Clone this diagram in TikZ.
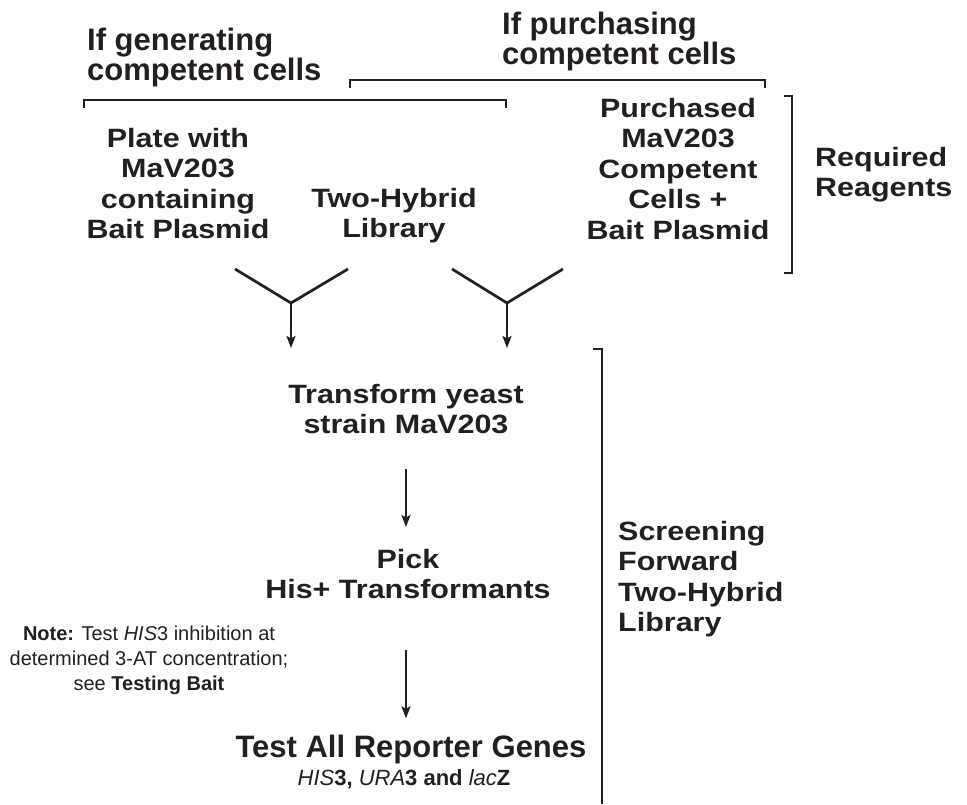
\documentclass[tikz,border=0pt]{standalone}
\usepackage{fontspec}
\setmainfont{Liberation Sans}
\newfontfamily\wideface{Liberation Sans}[FakeStretch=1.15]
\usetikzlibrary{arrows.meta,positioning}
\definecolor{ink}{RGB}{35,31,32}

\tikzset{
  cond/.style={font=\fontsize{31}{30}\selectfont\bfseries, align=left, anchor=north west, inner sep=0pt, text=ink},
  item/.style={font=\wideface\fontsize{26.5}{30.5}\selectfont\bfseries, align=center, anchor=north, inner sep=0pt, text=ink},
  side/.style={item, align=left, anchor=north west},
  brk/.style={draw=ink, line width=1.4pt},
  yline/.style={draw=ink, line width=2.7pt},
  arr/.style={yline, -{Stealth[length=12pt,width=9pt,inset=2.5pt]}}
}

\begin{document}
\begin{tikzpicture}[x=1pt, y=-1pt]
	\useasboundingbox (0,0) rectangle (967,804);

	% Bedingungen oben
	\node[cond] (gen) at (87, 28) {If generating\\competent cells};
	\node[cond] (pur) at (502, 12) {If purchasing\\competent cells};
	\draw[brk] (350, 88) -- (350, 80) -- (765, 80) -- (765, 88);
	\draw[brk] (84, 108) -- (84, 100) -- (506, 100) -- (506, 108);

	% Reagenzien
	\node[item] (plate) at (178, 128) {Plate with\\MaV203\\containing\\Bait Plasmid};
	\node[item] (lib) at (394, 188) {Two-Hybrid\\Library};
	\node[item] (buy) at (678, 98) {Purchased\\MaV203\\Competent\\Cells +\\Bait Plasmid};
	\draw[brk] (784, 96) -- (792, 96) -- (792, 273) -- (784, 273);
	\node[side] (req) at (815, 147) {Required\\Reagents};

	% Zusammenfuehrung
	\coordinate (jl) at (291, 303);
	\coordinate (jr) at (507, 303);
	\coordinate (al) at (291, 348);
	\coordinate (ar) at (507, 348);
	\draw[yline] (235, 269) -- (jl) -- (348, 269);
	\draw[yline] (452, 269) -- (jr) -- (563, 269);
	\draw[arr] (jl) -- (al);
	\draw[arr] (jr) -- (ar);

	% Screening
	\node[item] (trf) at (406, 384) {Transform yeast\\strain MaV203};
	\node[item] (pick) at (408, 549) {Pick\\His+ Transformants};
	\node[font=\fontsize{31}{31}\selectfont\bfseries, anchor=base, inner sep=0pt, text=ink] (test) at (411, 757) {Test All Reporter Genes};
	\node[font=\fontsize{22}{22}\selectfont\bfseries, anchor=base, inner sep=0pt, text=ink] (genes) at (404, 785)
		{\textmd{\textit{HIS}}3, \textmd{\textit{URA}}3 and \textmd{\textit{lac}}Z};
	\draw[arr] ([yshift=-35pt]trf.south) -- ([yshift=22pt]pick.north -| trf.south);
	\draw[arr] ([yshift=-51pt]pick.south -| trf.south) -- ([yshift=16pt]test.north -| trf.south);

	% Hinweis
	\node[font=\fontsize{20}{25}\selectfont, align=center, anchor=north, inner sep=0pt, text=ink] (note) at (149, 626)
		{\textbf{Note:} Test \textit{HIS}3 inhibition at\\determined 3-AT concentration;\\see \textbf{Testing Bait}};

	\draw[brk] (593, 349) -- (602, 349) -- (602, 804);
	\node[side] (scr) at (618, 521) {Screening\\Forward\\Two-Hybrid\\Library};
\end{tikzpicture}
\end{document}
